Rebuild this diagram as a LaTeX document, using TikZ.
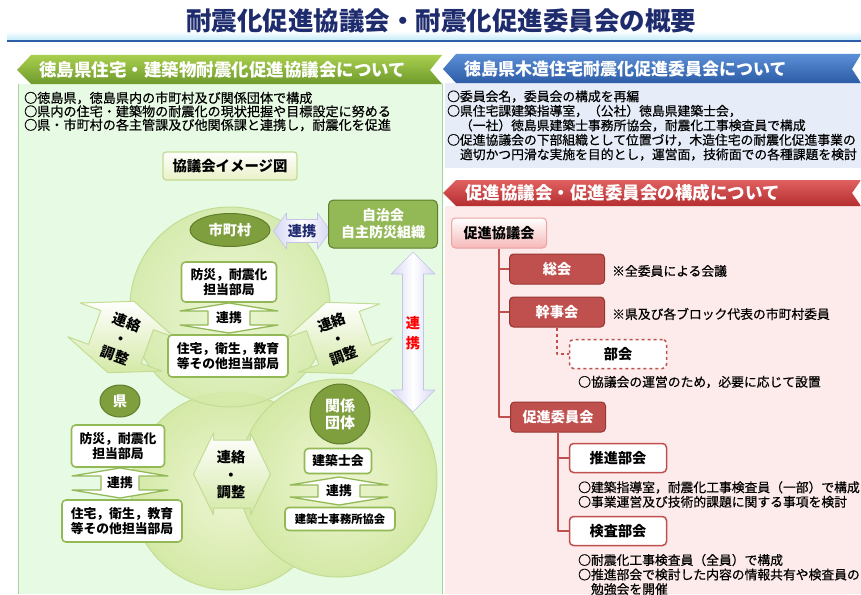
\documentclass[tikz,border=0pt]{standalone}
\usepackage{fontspec}
\setmainfont{Noto Sans CJK JP}
\usetikzlibrary{shapes.geometric,positioning}
\definecolor{ctitle}{HTML}{1E2C6E}
\definecolor{cbar}{HTML}{BFEAF8}
\definecolor{cbarline}{HTML}{2D5FA8}
\definecolor{cgreenhi}{HTML}{A9CF4E}
\definecolor{cgreenlo}{HTML}{6E9A2C}
\definecolor{cmint}{HTML}{E7FAE4}
\definecolor{cmintbd}{HTML}{A6D39A}
\definecolor{cbluehi}{HTML}{5B8FD6}
\definecolor{cbluelo}{HTML}{2C5CA6}
\definecolor{cpale}{HTML}{E6EDF8}
\definecolor{credhi}{HTML}{E06060}
\definecolor{credlo}{HTML}{B52E30}
\definecolor{cpink}{HTML}{FDEAEA}
\definecolor{ccircin}{HTML}{EEF6D4}
\definecolor{ccircout}{HTML}{D4E9A6}
\definecolor{ccircbd}{HTML}{C3DC94}
\definecolor{colive}{HTML}{7F9F3E}
\definecolor{colivebd}{HTML}{5F7D2A}
\definecolor{cbox}{HTML}{93B957}
\definecolor{cbtn}{HTML}{E9F1C6}
\definecolor{clav}{HTML}{D6D6F4}
\definecolor{clavbd}{HTML}{C4C4E6}
\definecolor{cnavy}{HTML}{1F2A70}
\definecolor{cbrick}{HTML}{C0504D}
\definecolor{cbrickbd}{HTML}{963634}
\definecolor{crosy}{HTML}{F6B8B8}
\def\titlefs{\fontsize{25.5}{28}\selectfont}
\def\headfs{\fontsize{17.5}{20}\selectfont}
\def\bodyfs{\fontsize{12.8}{14.5}\selectfont\addfontfeatures{FakeBold=0.5}}
\def\boxfs{\fontsize{12.8}{14.5}\selectfont}
\def\labfs{\fontsize{14.2}{17}\selectfont}
% double headed arrow: style, centre, angle, half length, half head, half shaft, head length
\newcommand{\dblarrow}[7]{%
  \begin{scope}[shift={#2}, rotate=#3]
    \path[#1] (0,-#4) -- (#5,-#4+#7) -- (#6,-#4+#7) -- (#6,#4-#7)
      -- (#5,#4-#7) -- (0,#4) -- (-#5,#4-#7) -- (-#6,#4-#7)
      -- (-#6,-#4+#7) -- (-#5,-#4+#7) -- cycle;
  \end{scope}}

\begin{document}
\begin{tikzpicture}[x=1pt, y=-1pt, line join=round,
  greenbox/.style={draw=cbox, line width=1.6pt, fill=white, rounded corners=4pt,
                   align=center, inner sep=0pt, font=\boxfs\bfseries},
  darknode/.style={fill=colive, draw=colivebd, line width=1pt, text=white,
                   inner sep=0pt, align=center, font=\labfs\bfseries},
  brickbox/.style={fill=cbrick, draw=cbrickbd, line width=1pt, rounded corners=4pt,
                   text=white, minimum width=95pt, minimum height=30pt, font=\labfs\bfseries},
  whitebox/.style={fill=white, draw=cbrick, line width=1.5pt, rounded corners=4pt,
                   minimum width=97pt, minimum height=29pt, font=\labfs\bfseries},
  treeline/.style={cbrick, line width=1.2pt},
  note/.style={anchor=west, inner sep=0pt, align=left, font=\bodyfs},
  header/.style={anchor=west, inner sep=0pt, text=white, font=\headfs\bfseries},
  hollow/.style={fill=white, draw=cbox, line width=1.3pt},
  lavarrow/.style={shade, left color=clav, right color=clav, middle color=white,
                   draw=clavbd, line width=0.6pt},
  leafarrow/.style={shade, top color=white, bottom color=ccircout, draw=ccircbd,
                    line width=1pt},
  arrowtext/.style={inner sep=0pt, font=\labfs\bfseries},
  stacktext/.style={inner sep=0pt, align=center, font=\fontsize{14.2}{17.5}\selectfont\bfseries}]
\useasboundingbox (0,0) rectangle (861,594);
\fill[white] (0,0) rectangle (861,594);

% =================== title ===================
\shade[top color=white, bottom color=cbar] (7,31) rectangle (861,41);
\draw[cbarline, line width=2pt] (7,41.5) -- (861,41.5);
\node[ctitle, font=\titlefs\bfseries] (title) at (441,21)
  {耐震化促進協議会・耐震化促進委員会の概要};

% =================== panels and banners ===================
\fill[cmint] (18,84) rectangle (442,594);
\draw[cmintbd, line width=0.8pt] (18,84) -- (18,594) (442,84) -- (442,594);
\fill[cpale] (445,83) rectangle (861,168);
\fill[cpink] (445,206) rectangle (861,594);

\shade[top color=cgreenhi, bottom color=cgreenlo]
  (17,70) -- (31,55) -- (442,55) -- (430,70) -- (442,84) -- (31,84) -- cycle;
\shade[top color=cbluehi, bottom color=cbluelo]
  (443,69) -- (456,54) -- (861,54) -- (852,69) -- (861,83) -- (456,83) -- cycle;
\shade[top color=credhi, bottom color=credlo]
  (443,193) -- (456,180) -- (861,180) -- (852,193) -- (861,206) -- (456,206) -- cycle;

\node[header] (hkyogi) at (39,70) {徳島県住宅・建築物耐震化促進協議会について};
\node[header, font=\fontsize{17}{20}\selectfont\bfseries] (hiin) at (464,69)
  {徳島県木造住宅耐震化促進委員会について};
\node[header] (hkosei) at (465,193) {促進協議会・促進委員会の構成について};

% =================== left panel ===================
\node[note, font=\fontsize{13.1}{13.5}\selectfont\addfontfeatures{FakeBold=0.5}] (leftnote)
  at (24,111.5)
  {○徳島県，徳島県内の市町村及び関係団体で構成\\
   ○県内の住宅・建築物の耐震化の現状把握や目標設定に努める\\
   ○県・市町村の各主管課及び他関係課と連携し，耐震化を促進};

\node[shade, top color=white, bottom color=cbtn, draw=ccircbd, line width=1.2pt,
      rounded corners=3pt, minimum width=134pt, minimum height=28pt,
      font=\fontsize{14.4}{16}\selectfont\bfseries] (image) at (230,166) {協議会イメージ図};

% circles (middle, right, top)
\shade[inner color=ccircin, outer color=ccircout] (230,491) circle (99);
\draw[ccircbd, line width=1pt] (230,491) circle (99);
\shade[inner color=ccircin, outer color=ccircout] (338,478) circle (99);
\draw[ccircbd, line width=1pt] (338,478) circle (99);
\shade[inner color=ccircin, outer color=ccircout, opacity=0.85] (230,307) circle (100);
\draw[ccircbd, line width=1pt] (230,307) circle (100);

% big arrows
\dblarrow{lavarrow}{(302,231)}{90}{28.5}{18}{11.5}{13}
\dblarrow{lavarrow}{(413,332)}{0}{80}{22}{10.5}{22}
\dblarrow{leafarrow}{(121,337)}{-20}{38}{50}{28}{20}
\dblarrow{leafarrow}{(339,338)}{20}{38}{50}{28}{20}
\dblarrow{leafarrow}{(232,474)}{90}{38.5}{41}{34}{20}
\dblarrow{hollow}{(229,318)}{0}{15}{49}{21}{8}
\dblarrow{hollow}{(120,483)}{0}{15}{48}{19}{8}
\dblarrow{hollow}{(339,491)}{0}{14}{49}{21}{8}

% 市町村 group
\node[darknode, ellipse, minimum width=80pt, minimum height=33pt] (city) at (230,230) {市町村};
\node[darknode, fill=cbox, rounded corners=5pt, minimum width=109pt, minimum height=48pt,
      font=\fontsize{14}{17}\selectfont\bfseries] (jichi) at (383,224) {自治会\\自主防災組織};
\node[arrowtext, cnavy] (lavtext) at (302,231) {連携};
\node[arrowtext, red, align=center, font=\fontsize{14.2}{20}\selectfont\bfseries]
  (redtext) at (413,333) {連\\携};
\node[greenbox, minimum width=95pt, minimum height=40pt] (citybosai) at (229,282)
  {防災，耐震化\\担当部局};
\node[arrowtext, font=\boxfs\bfseries] (citylink) at (229,318) {連携};
\node[greenbox, minimum width=120pt, minimum height=42pt] (cityjutaku) at (228,356)
  {住宅，衛生，教育\\等その他担当部局};

% 連絡・調整 labels
\node[stacktext, rotate=-20] (lrenraku) at (121,339) {連絡\\・\\調整};
\node[stacktext, rotate=20] (rrenraku) at (338,339) {連絡\\・\\調整};
\node[stacktext] (mrenraku) at (231,475) {連絡\\・\\調整};

% 県 group
\node[darknode, ellipse, minimum width=40pt, minimum height=32pt] (pref) at (120,401) {県};
\node[greenbox, minimum width=93pt, minimum height=42pt] (prefbosai) at (118,446)
  {防災，耐震化\\担当部局};
\node[arrowtext, font=\boxfs\bfseries] (preflink) at (120,483) {連携};
\node[greenbox, minimum width=120pt, minimum height=42pt] (prefjutaku) at (122,521)
  {住宅，衛生，教育\\等その他担当部局};

% 関係団体 group
\node[darknode, circle, minimum size=60pt, font=\fontsize{15}{17}\selectfont\bfseries]
  (group) at (340,414) {関係\\団体};
\node[greenbox, minimum width=67pt, minimum height=25pt] (shikai) at (338,461) {建築士会};
\node[arrowtext, font=\boxfs\bfseries] (grouplink) at (339,491) {連携};
\node[greenbox, minimum width=110pt, minimum height=23pt,
      font=\fontsize{11.3}{13}\selectfont\bfseries] (jimusho) at (340,519) {建築士事務所協会};

% =================== right top panel ===================
\node[note] (iinnote) at (447,125.5)
  {○委員会名，委員会の構成を再編\\
   ○県住宅課建築指導室，（公社）徳島県建築士会，\\
   　（一社）徳島県建築士事務所協会，耐震化工事検査員で構成\\
   ○促進協議会の下部組織として位置づけ，木造住宅の耐震化促進事業の\\
   　適切かつ円滑な実施を目的とし，運営面，技術面での各種課題を検討};

% =================== organisation tree ===================
\node[shade, top color=white, bottom color=crosy, draw=crosy!80!cbrick, line width=1pt,
      rounded corners=4pt, minimum width=95pt, minimum height=30pt,
      font=\labfs\bfseries] (kyogikai) at (499,233) {促進協議会};
\node[brickbox] (sokai) at (557,269) {総会};
\node[brickbox] (kanji) at (557,312) {幹事会};
\node[whitebox, dashed] (bukai) at (618,354) {部会};
\node[brickbox] (iinkai) at (558,417) {促進委員会};
\node[whitebox] (suishin) at (618,458) {推進部会};
\node[whitebox] (kensa) at (618,531) {検査部会};

\draw[treeline] (kyogikai.south) |- (sokai.west);
\draw[treeline] (kyogikai.south) |- (kanji.west);
\draw[treeline] (kyogikai.south) |- (iinkai.west);
\draw[treeline, dashed] (kanji.south) |- (bukai.west);
\draw[treeline] (iinkai.south) |- (suishin.west);
\draw[treeline] (iinkai.south) |- (kensa.west);

\node[note] (sokainote) at (612,271) {※全委員による会議};
\node[note] (kanjinote) at (612,314) {※県及び各ブロック代表の市町村委員};
\node[note] (bukainote) at (578,382) {○協議会の運営のため，必要に応じて設置};
\node[note] (suishinnote) at (578,494.5)
  {○建築指導室，耐震化工事検査員（一部）で構成\\
   ○事業運営及び技術的課題に関する事項を検討};
\node[note] (kensanote) at (578,574.5)
  {○耐震化工事検査員（全員）で構成\\
   ○推進部会で検討した内容の情報共有や検査員の\\
   　勉強会を開催};
\end{tikzpicture}
\end{document}
